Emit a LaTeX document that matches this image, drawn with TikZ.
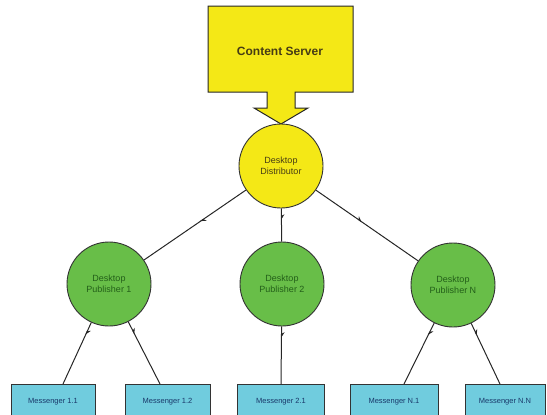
\documentclass[tikz,border=0pt]{standalone}
\usepackage{fontspec}
\setmainfont{Liberation Sans}
\usetikzlibrary{arrows.meta,decorations.markings}
\definecolor{ylw}{RGB}{244,232,22}
\definecolor{grn}{RGB}{104,190,72}
\definecolor{cyn}{RGB}{112,204,222}
\definecolor{grntxt}{RGB}{35,95,25}
\definecolor{bluetxt}{RGB}{25,55,105}
\definecolor{ylwtxt}{RGB}{70,60,20}
\tikzset{
  distnode/.style={circle,draw=black!80,line width=0.9pt,fill=ylw,minimum size=84pt,inner sep=0pt,align=center,font=\fontsize{9}{11}\selectfont,text=ylwtxt},
  pubnode/.style={circle,draw=black!80,line width=0.9pt,fill=grn,minimum size=84pt,inner sep=0pt,align=center,font=\fontsize{9}{11}\selectfont,text=grntxt},
  msgnode/.style={rectangle,draw=black!80,line width=1pt,fill=cyn,minimum width=84pt,minimum height=34pt,anchor=north,font=\fontsize{7.5}{9}\selectfont,text=bluetxt},
  link/.style={draw=black!85,line width=1pt},
  markat/.style={postaction={decorate},decoration={markings,mark=at position #1 with {\arrow{Stealth[harpoon,length=5pt,width=6pt]}}}}
}
\begin{document}
\begin{tikzpicture}[x=1pt,y=-1pt]
\useasboundingbox (0,0) rectangle (547,415);
% content server block with arrow
\draw[draw=black!85,line width=1pt,fill=ylw] (208,6) -- (353,6) -- (353,92) -- (295,92) -- (295,108) -- (308,108) -- (281,124) -- (254,108) -- (267,108) -- (267,92) -- (208,92) -- cycle;
\node[font=\fontsize{12}{14}\selectfont\bfseries,text=ylwtxt] (cs) at (280,51) {Content Server};
% distributor
\node[distnode] (dist) at (281,166) {Desktop\\Distributor};
% publishers
\node[pubnode] (p1) at (109,284) {Desktop\\Publisher 1};
\node[pubnode] (p2) at (282,284) {Desktop\\Publisher 2};
\node[pubnode] (pn) at (453,285) {Desktop\\Publisher N};
% messengers
\node[msgnode,minimum width=84pt] (m11) at (53,384) {Messenger 1.1};
\node[msgnode,minimum width=85pt] (m12) at (167.5,384) {Messenger 1.2};
\node[msgnode,minimum width=87pt] (m21) at (281,384) {Messenger 2.1};
\node[msgnode,minimum width=88pt] (mn1) at (394,384) {Messenger N.1};
\node[msgnode,minimum width=80pt] (mnn) at (505,384) {Messenger N.N};
\coordinate (t11) at (63,384);
\coordinate (t12) at (160,384);
\coordinate (t21) at (281,384);
\coordinate (tn1) at (404,384);
\coordinate (tnn) at (500,384);
% links
\path[link,markat=0.45] (dist) -- (p1);
\path[link,markat=0.35] (dist) -- (p2);
\path[link,markat=0.45] (dist) -- (pn);
\path[link,markat=0.2] (p1) -- (t11);
\path[link,markat=0.2] (p1) -- (t12);
\path[link,markat=0.2] (p2) -- (t21);
\path[link,markat=0.2] (pn) -- (tn1);
\path[link,markat=0.2] (pn) -- (tnn);
\end{tikzpicture}
\end{document}
